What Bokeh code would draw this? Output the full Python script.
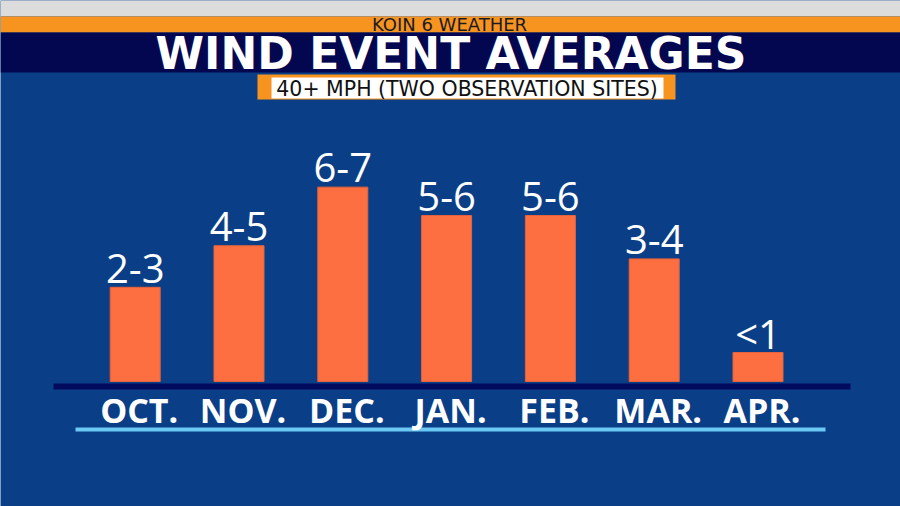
from bokeh.plotting import figure
from bokeh.models import Range1d
from bokeh.core.properties import value
from bokeh.embed import file_html
from bokeh.resources import INLINE

# ---- data ----
months = ["OCT.", "NOV.", "DEC.", "JAN.", "FEB.", "MAR.", "APR."]
events = [3.15, 4.54, 6.5, 5.55, 5.55, 4.1, 0.97]   # bar heights
range_labels = ["2-3", "4-5", "6-7", "5-6", "5-6", "3-4", "<1"]
title = "WIND EVENT AVERAGES"
subtitle = "40+ MPH (TWO OBSERVATION SITES)"
brand = "KOIN 6 WEATHER"

# ---- colours ----
BG = "#0a3e87"
ORANGE_BAR = "#fd6e41"
NAVY = "#03074f"
BAND_ORANGE = "#f7931f"
BASE_NAVY = "#020a5e"
LIGHT_BLUE = "#6cc9f6"

idx = list(range(len(months)))
PX_PER_UNIT = 29.9

p = figure(width=900, height=506,
           x_range=Range1d(-1.2977, 7.3728), y_range=Range1d(-4.181, 12.742),
           output_backend="svg", toolbar_location=None,
           x_axis_location=None, y_axis_location=None, min_border=0)
p.grid.visible = False
p.outline_line_color = None
p.background_fill_color = BG
p.border_fill_color = BG
p.extra_x_ranges = {"px": Range1d(0, 900)}
p.extra_y_ranges = {"py": Range1d(506, 0)}

def band(l, r, t, b, color):
    p.quad(left=[l], right=[r], top=[t], bottom=[b], fill_color=color,
           line_color=None, x_range_name="px", y_range_name="py")

# header
band(0, 900, 0, 16, "#dcdcdc")
band(0, 900, 16, 32, BAND_ORANGE)
band(0, 900, 32, 72, NAVY)
band(257, 675, 74, 99, BAND_ORANGE)
band(271, 663, 77, 98, "white")
# baseline and underline
band(53, 850, 383, 389, BASE_NAVY)
band(75, 825, 427, 431, LIGHT_BLUE)

def label(x, y, txt, font, size, color, style="normal"):
    p.text(x=[x], y=[y], text=[txt], x_range_name="px", y_range_name="py",
           text_font=value(font), text_font_size=size, text_font_style=style,
           text_color=color, text_align="center", text_baseline="middle")

label(449, 23.8, brand, "DejaVu Sans", "18px", "#1b1b22")
label(450.5, 53, title, "DejaVu Sans", "44px", "white", "bold")
label(466.5, 88.6, subtitle, "DejaVu Sans", "20.5px", "#111111")

# bars
p.vbar(x=idx, width=50 / 103.8, bottom=0, top=events, fill_color=ORANGE_BAR,
       line_color="#e8623a", line_width=1)

gap = 19.3 / PX_PER_UNIT
p.text(x=idx, y=[v + gap for v in events], text=range_labels,
       text_font=value("Open Sans"), text_font_size="40px",
       text_color="white", text_align="center", text_baseline="middle")

p.text(x=idx, y=[409.5] * len(months), text=months, y_range_name="py",
       x_offset=4, text_font=value("Open Sans"), text_font_size="34px",
       text_font_style="bold", text_color="white", text_align="center",
       text_baseline="middle")

open("out.html", "w").write(file_html(p, INLINE))
